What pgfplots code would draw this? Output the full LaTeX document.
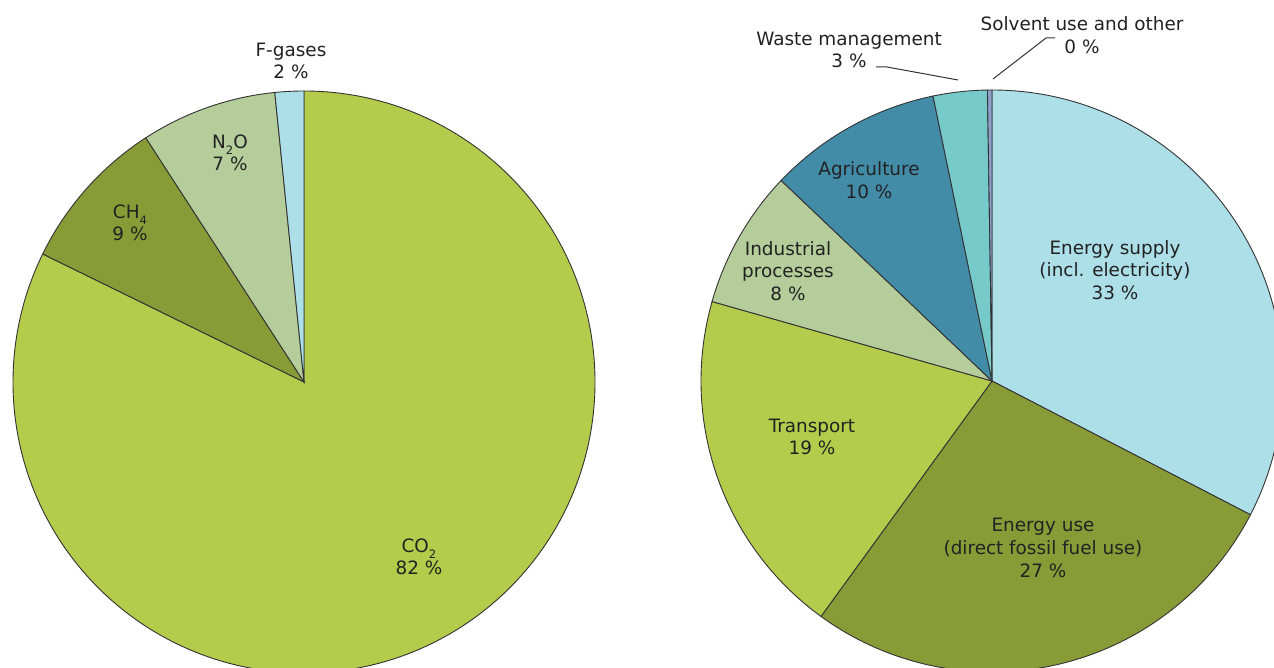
\documentclass[border=0pt]{standalone}
\usepackage{pgfplots}
\usepackage{pgfplotstable}
\pgfplotsset{compat=1.18}
\usepackage{fontspec}
\setmainfont{DejaVu Sans}

\definecolor{cGreen}{HTML}{B4CB4B}
\definecolor{cOlive}{HTML}{889B37}
\definecolor{cPale}{HTML}{B5CD9A}
\definecolor{cSky}{HTML}{ADDFE8}
\definecolor{cTeal}{HTML}{428CA8}
\definecolor{cTurq}{HTML}{76CBCA}
\definecolor{cLav}{HTML}{8FA1CB}
\definecolor{cText}{HTML}{222222}
\definecolor{cEdge}{HTML}{333333}

\newcommand\sub[1]{\raisebox{-0.6ex}{\fontsize{5.8}{6}\selectfont #1}}

% share of each slice (percent), clockwise from 12 o'clock
\pgfplotstableread{
name value colour
CO2 82.25 cGreen
CH4 8.6 cOlive
N2O 7.55 cPale
Fgases 1.6 cSky
}\gasdata
\pgfplotstableread{
name value colour
EnergySupply 32.6 cSky
EnergyUse 27.4 cOlive
Transport 19.4 cGreen
Industrial 7.7 cPale
Agriculture 9.65 cTeal
Waste 3.0 cTurq
Solvent 0.25 cLav
}\sectordata

% compute slice angles from the table values
\newcommand\computeangles[2]{% table, prefix
  \pgfplotstablegetrowsof{#1}%
  \pgfmathtruncatemacro\nrows{\pgfplotsretval-1}%
  \gdef\curang{90}%
  \foreach \i in {0,...,\nrows}{%
    \pgfplotstablegetelem{\i}{value}\of{#1}%
    \pgfmathsetmacro\endang{\curang-3.6*\pgfplotsretval}%
    \expandafter\xdef\csname #2s\i\endcsname{\curang}%
    \expandafter\xdef\csname #2e\i\endcsname{\endang}%
    \pgfplotstablegetelem{\i}{colour}\of{#1}%
    \expandafter\xdef\csname #2c\i\endcsname{\pgfplotsretval}%
    \xdef\curang{\endang}%
  }%
}
\computeangles{\gasdata}{g}
\computeangles{\sectordata}{r}

\begin{document}
\begin{tikzpicture}
\begin{axis}[
  scale only axis, width=637pt, height=334pt,
  xmin=0, xmax=1274, ymin=0, ymax=668,
  hide axis, clip=true,
]
% left pie: centre (304,286), radius 291 px = 145.5pt
\pgfplotsinvokeforeach{0,...,3}{
  \filldraw[fill=\csname gc#1\endcsname, draw=cEdge, line width=0.45pt]
    (axis cs:304,286) -- ++(\csname gs#1\endcsname:145.5pt)
    arc[start angle=\csname gs#1\endcsname, end angle=\csname ge#1\endcsname, radius=145.5pt] -- cycle;
}
% right pie: centre (992,287)
\pgfplotsinvokeforeach{0,...,6}{
  \filldraw[fill=\csname rc#1\endcsname, draw=cEdge, line width=0.45pt]
    (axis cs:992,287) -- ++(\csname rs#1\endcsname:145.5pt)
    arc[start angle=\csname rs#1\endcsname, end angle=\csname re#1\endcsname, radius=145.5pt] -- cycle;
}
% leader lines
\draw[cEdge, line width=0.5pt] (axis cs:876,601) -- (axis cs:887,601) -- (axis cs:958,588);
\draw[cEdge, line width=0.5pt] (axis cs:993,589) -- (axis cs:1046,630) -- (axis cs:1055,630);

\tikzset{lbl/.style={text=cText, align=center, inner sep=0pt,
  font=\fontsize{9.2}{11.3}\selectfont}}
% left labels
\node[lbl] at (axis cs:291,607) {F-gases\\2 \%};
\node[lbl] at (axis cs:230,515) {N\sub{2}O\\7 \%};
\node[lbl] at (axis cs:130,445) {CH\sub{4}\\9 \%};
\node[lbl] at (axis cs:419,111) {CO\sub{2}\\82 \%};
% right labels
\node[lbl] at (axis cs:849,618) {Waste management\\3 \%};
\node[lbl] at (axis cs:1082,633) {Solvent use and other\\0 \%};
\node[lbl] at (axis cs:869,488) {Agriculture\\10 \%};
\node[lbl] at (axis cs:788,397) {Industrial\\processes\\8 \%};
\node[lbl] at (axis cs:1115,398) {Energy supply\\(incl. electricity)\\33 \%};
\node[lbl] at (axis cs:812,231) {Transport\\19 \%};
\node[lbl] at (axis cs:1043,120) {Energy use\\(direct fossil fuel use)\\27 \%};
\end{axis}
\pgfresetboundingbox
\path (current axis.south west) rectangle (current axis.north east);
\end{tikzpicture}
\end{document}
